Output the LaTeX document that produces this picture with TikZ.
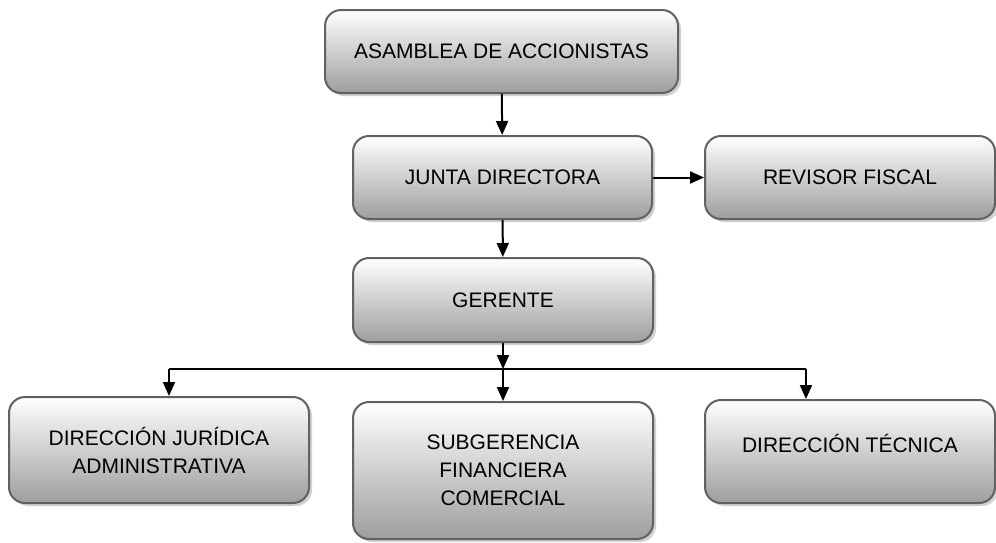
\documentclass[tikz,border=0pt]{standalone}
\usepackage{fontspec}
\setmainfont{Liberation Sans}
\usetikzlibrary{arrows.meta,shadows}

\tikzset{
  cargo/.style={draw=black!62, line width=1pt, rounded corners=8pt,
    top color=white, bottom color=black!38, align=center,
    drop shadow={shadow xshift=1.5pt, shadow yshift=-1.5pt, fill=black!30, opacity=0.6},
    font=\fontsize{10.5}{14}\selectfont},
  flecha/.style={-{Triangle[length=7pt,width=6pt]}, line width=1pt}
}

\begin{document}
\begin{tikzpicture}[x=0.5pt,y=-0.5pt]
            \useasboundingbox (0,0) rectangle (996,542);

            % Top of the chart
            \node[cargo, minimum width=176.5pt, minimum height=41.5pt] (asamblea) at (501.5,51.5) {ASAMBLEA DE ACCIONISTAS};
            \node[cargo, minimum width=149.5pt, minimum height=41.5pt] (junta) at (502.5,177.5) {JUNTA DIRECTORA};
            \node[cargo, minimum width=145pt, minimum height=41.5pt] (revisor) at (850,177.5) {REVISOR FISCAL};
            \node[cargo, minimum width=150pt, minimum height=42pt] (gerente) at (503,300) {GERENTE};

            % Dependencies of the manager
            \node[cargo, minimum width=150pt, minimum height=53pt] (juridica) at (159,450) {DIRECCIÓN JURÍDICA\\ADMINISTRATIVA};
            \node[cargo, minimum width=150pt, minimum height=68.5pt] (subgerencia) at (503,470.5) {SUBGERENCIA\\FINANCIERA\\COMERCIAL};
            \node[cargo, minimum width=145pt, minimum height=51.5pt, text depth=8pt] (tecnica) at (850,451.5) {DIRECCIÓN TÉCNICA};

            % Bus under the manager
            \coordinate (bus) at (503,369);
            \coordinate (busizq) at (169,369);
            \coordinate (busder) at (806,369);

            \draw[flecha] (asamblea) -- (junta);
            \draw[flecha] (junta) -- (revisor);
            \draw[flecha] (junta) -- (gerente);
            \draw[flecha] (gerente.south) -- (bus);
            \draw[line width=1pt] (busizq) -- (busder);
            \draw[flecha] (busizq) -- (busizq |- juridica.north);
            \draw[flecha] (bus) -- (subgerencia.north);
            \draw[flecha] (busder) -- (busder |- tecnica.north);
        \end{tikzpicture}
\end{document}
